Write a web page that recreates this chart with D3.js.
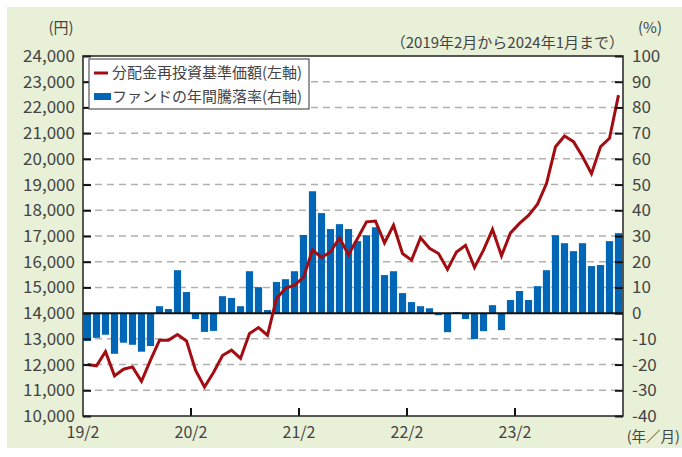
<!DOCTYPE html>
<html>
<head>
<meta charset="utf-8">
<script src="https://cdn.jsdelivr.net/npm/d3@7"></script>
<style>
  body { margin: 0; background: #fff; }
  svg text { font-family: "Noto Sans CJK JP", "Noto Sans", sans-serif; fill: #444; }
</style>
</head>
<body>
<div id="chart"></div>
<script>
// 分配金再投資基準価額 (円), 2019/2 .. 2024/1
const navValues = [
  12000, 11950, 12500, 11560, 11820, 11910, 11350, 12170, 12950, 12950, 13170, 12920,
  11780, 11130, 11690, 12350, 12560, 12240, 13210, 13440, 13140, 14570, 14970, 15090,
  15390, 16450, 16170, 16380, 16920, 16270, 16900, 17550, 17580, 16730, 17420, 16320,
  16060, 16930, 16520, 16320, 15700, 16380, 16640, 15780, 16450, 17260, 16230, 17120,
  17490, 17800, 18240, 19040, 20470, 20890, 20670, 20090, 19420, 20470, 20800, 22480
];
// ファンドの年間騰落率 (%)
const returnValues = [
  -10.8, -9.6, -8.4, -15.8, -11.5, -12.3, -15.0, -12.8, 2.7, 1.6, 16.7, 8.2,
  -2.3, -7.3, -6.9, 6.6, 5.9, 2.7, 16.3, 10.1, 1.2, 12.1, 13.2, 16.3,
  30.4, 47.4, 38.9, 32.7, 34.6, 32.7, 28.0, 30.3, 33.4, 14.8, 16.3, 7.8,
  4.3, 2.7, 1.9, -0.8, -7.4, 0.4, -2.3, -10.1, -7.0, 3.1, -6.6, 5.1,
  8.6, 5.1, 10.5, 16.7, 30.3, 27.2, 24.1, 27.2, 18.3, 18.7, 28.0, 31.1
];
const startYear = 2019, startMonth = 2;
const months = d3.range(navValues.length).map(i => {
  const m = startMonth - 1 + i;
  return `${String((startYear + Math.floor(m / 12)) % 100)}/${(m % 12) + 1}`;
});
const xTickLabels = ["19/2", "20/2", "21/2", "22/2", "23/2"];
const leftTicks = d3.range(10000, 24001, 1000);
const rightTicks = d3.range(-40, 101, 10);
const legendLabels = ["分配金再投資基準価額(左軸)", "ファンドの年間騰落率(右軸)"];

const W = 682, H = 457;
const plot = { left: 83, right: 623, top: 56, bottom: 416 };
const lineColor = "#a30d12", barColor = "#0066b5";

const svg = d3.select("#chart").append("svg")
  .attr("width", W)
  .attr("height", H);

// green panel
svg.append("rect")
  .attr("x", 7).attr("y", 7)
  .attr("width", W - 7).attr("height", 441)
  .attr("fill", "#e8f1d8");

svg.append("rect")
  .attr("x", plot.left).attr("y", plot.top)
  .attr("width", plot.right - plot.left).attr("height", plot.bottom - plot.top)
  .attr("fill", "#fff");

const x = d3.scaleBand()
  .domain(months)
  .range([plot.left, plot.right])
  .paddingInner(0.2)
  .paddingOuter(0.1);

const yLeft = d3.scaleLinear().domain([10000, 24000]).range([plot.bottom, plot.top]);
const yRight = d3.scaleLinear().domain([-40, 100]).range([plot.bottom, plot.top]);

const edge = d => x(d) - x.step() * x.paddingInner() / 2;

// grid lines
svg.append("g")
  .selectAll("line")
  .data(leftTicks.filter(v => v > 10000 && v < 24000 && v !== 14000))
  .join("line")
  .attr("x1", plot.left).attr("x2", plot.right)
  .attr("y1", d => yLeft(d)).attr("y2", d => yLeft(d))
  .attr("stroke", "#b0b0b0")
  .attr("stroke-width", 1.5)
  .attr("stroke-dasharray", "7,5");

// bars
svg.append("g")
  .selectAll("rect")
  .data(returnValues)
  .join("rect")
  .attr("x", (d, i) => x(months[i]))
  .attr("width", x.bandwidth())
  .attr("y", d => yRight(Math.max(0, d)))
  .attr("height", d => Math.abs(yRight(d) - yRight(0)))
  .attr("fill", barColor);

// zero line
svg.append("line")
  .attr("x1", plot.left).attr("x2", plot.right)
  .attr("y1", yRight(0)).attr("y2", yRight(0))
  .attr("stroke", "#111")
  .attr("stroke-width", 2);

// NAV line
const line = d3.line()
  .x((d, i) => x(months[i]) + x.bandwidth() / 2)
  .y(d => yLeft(d));

svg.append("path")
  .datum(navValues)
  .attr("d", line)
  .attr("fill", "none")
  .attr("stroke", lineColor)
  .attr("stroke-width", 3)
  .attr("stroke-linejoin", "miter");

// axes (ticks point inward)
const leftAxis = d3.axisRight(yLeft).tickValues(leftTicks).tickSize(8).tickFormat("");
const rightAxis = d3.axisLeft(yRight).tickValues(rightTicks).tickSize(8).tickFormat("");

[svg.append("g").attr("transform", `translate(${plot.left},0)`).call(leftAxis),
 svg.append("g").attr("transform", `translate(${plot.right},0)`).call(rightAxis)]
  .forEach(g => {
    g.select(".domain").remove();
    g.selectAll(".tick line").attr("stroke", "#111").attr("stroke-width", 2);
  });

// x ticks on year boundaries
svg.append("g")
  .selectAll("line")
  .data(xTickLabels.slice(1))
  .join("line")
  .attr("x1", d => edge(d)).attr("x2", d => edge(d))
  .attr("y1", plot.bottom).attr("y2", plot.bottom - 8)
  .attr("stroke", "#111")
  .attr("stroke-width", 2);

// frame
svg.append("rect")
  .attr("x", plot.left).attr("y", plot.top)
  .attr("width", plot.right - plot.left).attr("height", plot.bottom - plot.top)
  .attr("fill", "none")
  .attr("stroke", "#222")
  .attr("stroke-width", 1.5);

// tick labels
svg.append("g")
  .selectAll("text")
  .data(leftTicks)
  .join("text")
  .attr("x", 75)
  .attr("y", d => yLeft(d))
  .attr("dy", "0.35em")
  .attr("text-anchor", "end")
  .attr("font-size", 17)
  .text(d => d3.format(",")(d));

svg.append("g")
  .selectAll("text")
  .data(rightTicks)
  .join("text")
  .attr("x", 632)
  .attr("y", d => yRight(d))
  .attr("dy", "0.35em")
  .attr("font-size", 17)
  .text(d => d);

svg.append("g")
  .selectAll("text")
  .data(xTickLabels)
  .join("text")
  .attr("x", d => edge(d))
  .attr("y", 432)
  .attr("dy", "0.35em")
  .attr("text-anchor", "middle")
  .attr("font-size", 16)
  .text(d => d);

svg.append("text").attr("x", 680).attr("y", 437).attr("dy", "0.35em")
  .attr("text-anchor", "end").attr("font-size", 14.5).text("(年／月)");
svg.append("text").attr("x", 61).attr("y", 28).attr("dy", "0.35em")
  .attr("text-anchor", "middle").attr("font-size", 15).text("(円)");
svg.append("text").attr("x", 650).attr("y", 28).attr("dy", "0.35em")
  .attr("text-anchor", "middle").attr("font-size", 15).text("(%)");
svg.append("text").attr("x", 624).attr("y", 43).attr("dy", "0.35em")
  .attr("text-anchor", "end").attr("font-size", 15).text("（2019年2月から2024年1月まで）");

// legend
const legend = svg.append("g").attr("transform", "translate(89,59)");
legend.append("rect")
  .attr("width", 220).attr("height", 50)
  .attr("fill", "#fff")
  .attr("stroke", "#555")
  .attr("stroke-width", 1.2);
legend.append("line")
  .attr("x1", 5).attr("x2", 19).attr("y1", 14).attr("y2", 14)
  .attr("stroke", lineColor).attr("stroke-width", 3);
legend.append("rect")
  .attr("x", 5).attr("y", 34).attr("width", 17).attr("height", 7)
  .attr("fill", barColor);
legend.selectAll("text.lbl")
  .data(legendLabels)
  .join("text")
  .attr("class", "lbl")
  .attr("x", 23)
  .attr("y", (d, i) => 14 + i * 24)
  .attr("dy", "0.35em")
  .attr("font-size", 15)
  .text(d => d);
</script>
</body>
</html>
